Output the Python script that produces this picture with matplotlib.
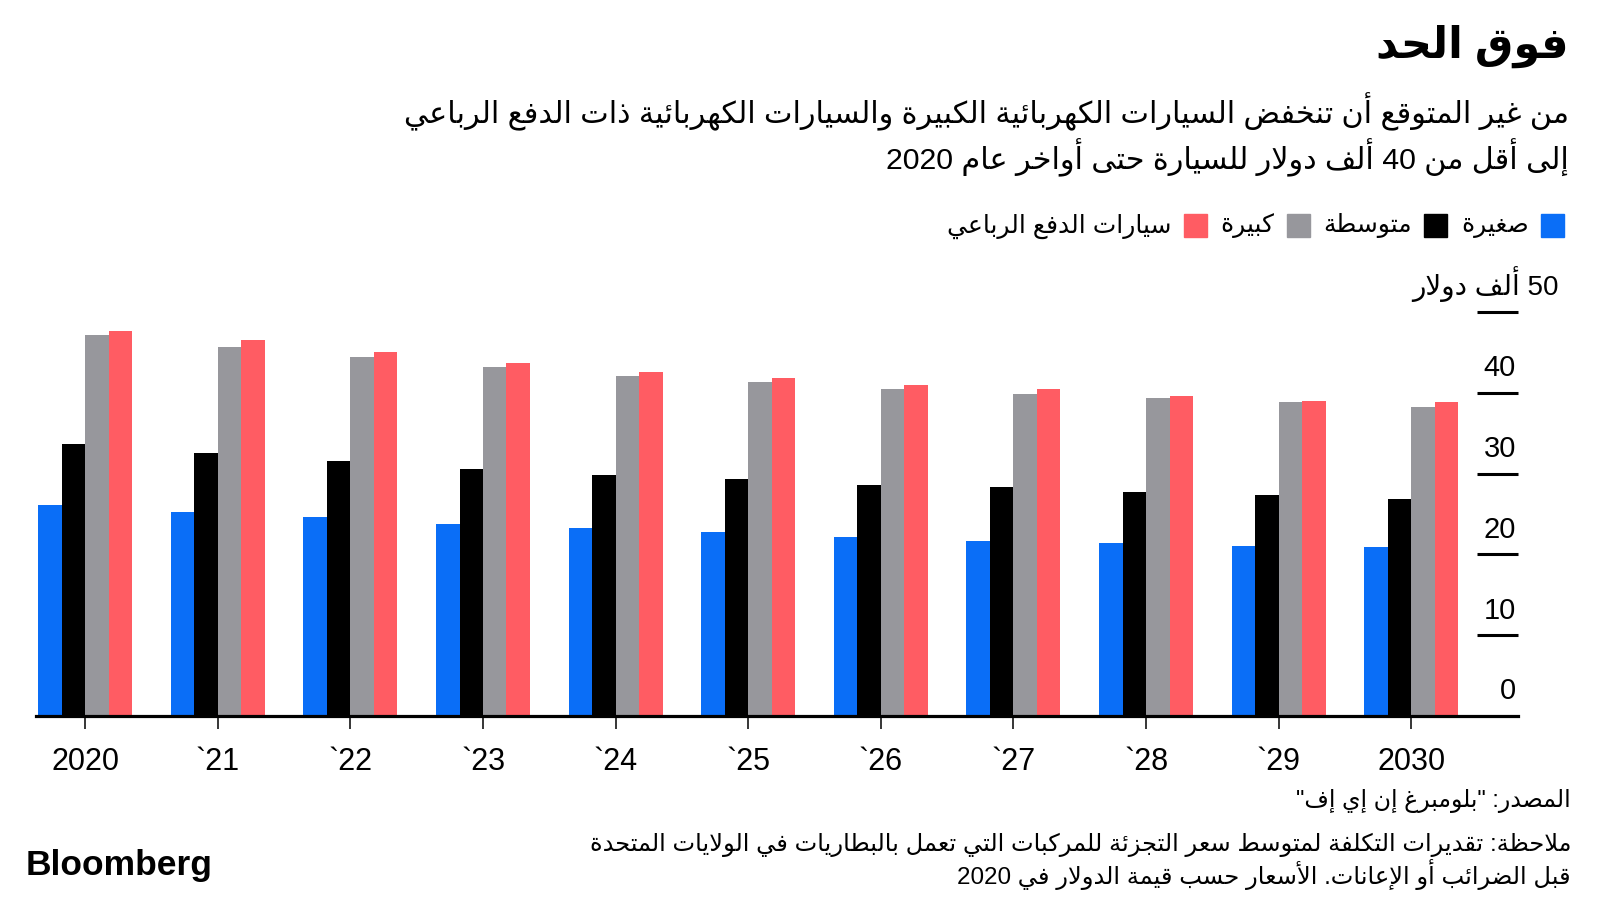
#!/usr/bin/env python

import re
import matplotlib
matplotlib.use("Agg")
import matplotlib.pyplot as plt
import numpy as np
from matplotlib.patches import Rectangle


# Data (thousand dollars per vehicle)
years = ["2020", "`21", "`22", "`23", "`24", "`25", "`26", "`27", "`28", "`29", "2030"]
small = [26.1, 25.3, 24.6, 23.8, 23.3, 22.8, 22.2, 21.7, 21.4, 21.1, 20.9]
medium = [33.7, 32.6, 31.6, 30.6, 29.8, 29.3, 28.6, 28.3, 27.7, 27.3, 26.9]
large = [47.1, 45.7, 44.4, 43.2, 42.1, 41.3, 40.5, 39.9, 39.3, 38.8, 38.3]
suv = [47.7, 46.5, 45.0, 43.7, 42.6, 41.8, 41.0, 40.5, 39.6, 39.0, 38.8]

series_names = ["صغيرة", "متوسطة", "كبيرة", "سيارات الدفع الرباعي"]
colors = ["#0a6ef7", "#000000", "#97979c", "#ff5c63"]
yticks = [0, 10, 20, 30, 40, 50]

title = "فوق الحد"
subtitle = ["من غير المتوقع أن تنخفض السيارات الكهربائية الكبيرة والسيارات الكهربائية ذات الدفع الرباعي",
            "إلى أقل من 40 ألف دولار للسيارة حتى أواخر عام 2020"]
unit = "50 ألف دولار"
source = "المصدر: \"بلومبرغ إن إي إف\""
note = ["ملاحظة: تقديرات التكلفة لمتوسط سعر التجزئة للمركبات التي تعمل بالبطاريات في الولايات المتحدة",
        "قبل الضرائب أو الإعانات. الأسعار حسب قيمة الدولار في 2020"]

FONTS = ["Liberation Sans", "DejaVu Sans"]
W, H = 1600, 900


# matplotlib has no arabic shaping, so map letters to presentation forms by hand
# letter -> (isolated form, number of forms: 1 none, 2 right joining, 4 dual joining)
LETTERS = {
    'ء': (0xFE80, 1), 'آ': (0xFE81, 2), 'أ': (0xFE83, 2), 'ؤ': (0xFE85, 2), 'إ': (0xFE87, 2),
    'ئ': (0xFE89, 4), 'ا': (0xFE8D, 2), 'ب': (0xFE8F, 4), 'ة': (0xFE93, 2), 'ت': (0xFE95, 4),
    'ث': (0xFE99, 4), 'ج': (0xFE9D, 4), 'ح': (0xFEA1, 4), 'خ': (0xFEA5, 4), 'د': (0xFEA9, 2),
    'ذ': (0xFEAB, 2), 'ر': (0xFEAD, 2), 'ز': (0xFEAF, 2), 'س': (0xFEB1, 4), 'ش': (0xFEB5, 4),
    'ص': (0xFEB9, 4), 'ض': (0xFEBD, 4), 'ط': (0xFEC1, 4), 'ظ': (0xFEC5, 4), 'ع': (0xFEC9, 4),
    'غ': (0xFECD, 4), 'ف': (0xFED1, 4), 'ق': (0xFED5, 4), 'ك': (0xFED9, 4), 'ل': (0xFEDD, 4),
    'م': (0xFEE1, 4), 'ن': (0xFEE5, 4), 'ه': (0xFEE9, 4), 'و': (0xFEED, 2), 'ى': (0xFEEF, 2),
    'ي': (0xFEF1, 4),
}
LAM_ALEF = {'آ': 0xFEF5, 'أ': 0xFEF7, 'إ': 0xFEF9, 'ا': 0xFEFB}


def shape(text):
    tokens = []
    i = 0
    while i < len(text):
        c = text[i]
        if c == 'ل' and i + 1 < len(text) and text[i + 1] in LAM_ALEF:
            tokens.append((LAM_ALEF[text[i + 1]], 2))
            i += 2
            continue
        tokens.append(LETTERS.get(c, c))
        i += 1

    out = []
    for k, t in enumerate(tokens):
        if isinstance(t, str):
            out.append(t)
            continue
        base, n = t
        prev = tokens[k - 1] if k > 0 else None
        nxt = tokens[k + 1] if k + 1 < len(tokens) else None
        jp = isinstance(prev, tuple) and prev[1] == 4 and n > 1
        jn = n == 4 and isinstance(nxt, tuple) and nxt[1] > 1
        if jp and jn:
            off = 3
        elif jp:
            off = 1
        elif jn:
            off = 2
        else:
            off = 0
        out.append(chr(base + off))
    return "".join(out)


def ar(text):
    # right to left: reverse everything, then put numbers back the right way round
    s = shape(text)[::-1]
    return re.sub(r"[0-9A-Za-z]+", lambda m: m.group(0)[::-1], s)


def fx(x):
    return x / W


def fy(y):
    return 1 - y / H


def main():
    fig = plt.figure(figsize=(16, 9), dpi=100)
    fig.patch.set_facecolor("white")

    # plot area: axis line from x=36 to 1518 px, 0 at y=716, 50 at y=312
    ax = fig.add_axes([fx(36), fy(716), fx(1518 - 36), (716 - 312) / H])

    x = np.arange(len(years))
    w = 0.177
    for j, vals in enumerate([small, medium, large, suv]):
        ax.bar(x + (j - 1.5) * w, vals, w, color=colors[j], linewidth=0, zorder=2)

    ax.set_xlim(-0.371, 10.805)
    ax.set_ylim(0, 50)

    for s in ["top", "left", "right"]:
        ax.spines[s].set_visible(False)
    ax.spines["bottom"].set_linewidth(2.3)
    ax.spines["bottom"].set_zorder(3)

    ax.set_xticks(x)
    ax.set_xticklabels(years, fontsize=22, family="Liberation Sans")
    ax.tick_params(axis="x", length=9, width=1.1, pad=13, color="black")

    # short dashes for the value axis on the right, labels sit above them
    ax.yaxis.tick_right()
    ax.set_yticks(yticks[1:])
    ax.tick_params(axis="y", direction="in", length=29.5, width=2.2,
                   labelright=False, labelleft=False)
    for v in yticks[:-1]:
        ax.annotate(str(v), xy=(1, v), xycoords=("axes fraction", "data"),
                    xytext=(-1.5, 12), textcoords="offset points",
                    ha="right", va="baseline", fontsize=21, family="Liberation Sans")
    ax.annotate(ar(unit), xy=(1, yticks[-1]), xycoords=("axes fraction", "data"),
                xytext=(29, 12), textcoords="offset points",
                ha="right", va="baseline", fontsize=20, family=FONTS)

    # headline and subtitle
    fig.text(fx(1569), fy(46), ar(title), ha="right", va="center",
             fontsize=31, fontweight="bold", family=FONTS)
    fig.text(fx(1569), fy(112), ar(subtitle[0]), ha="right", va="center",
             fontsize=21.8, family=FONTS)
    fig.text(fx(1569), fy(158), ar(subtitle[1]), ha="right", va="center",
             fontsize=21.8, family=FONTS)

    # legend, laid out right to left
    renderer = fig.canvas.get_renderer()
    xr = 1564
    ly = 226
    for name, c in zip(series_names, colors):
        fig.patches.append(Rectangle((fx(xr - 23), fy(ly + 11)), fx(23), 23 / H,
                                     transform=fig.transFigure, color=c, figure=fig))
        t = fig.text(fx(xr - 23 - 12), fy(ly), ar(name), ha="right", va="center",
                     fontsize=18, family=FONTS)
        tw = t.get_window_extent(renderer).width
        xr = xr - 23 - 12 - tw - 14

    # footer
    fig.text(fx(1571), fy(801), ar(source), ha="right", va="center",
             fontsize=17, family=FONTS)
    fig.text(fx(1571), fy(845), ar(note[0]), ha="right", va="center",
             fontsize=17.4, family=FONTS)
    fig.text(fx(1571), fy(874), ar(note[1]), ha="right", va="center",
             fontsize=17.4, family=FONTS)
    fig.text(fx(26), fy(865), "Bloomberg", ha="left", va="center",
             fontsize=25.5, fontweight="bold", family="Liberation Sans")

    fig.savefig("out.png", dpi=100, facecolor="white")


if __name__ == "__main__":
    main()
